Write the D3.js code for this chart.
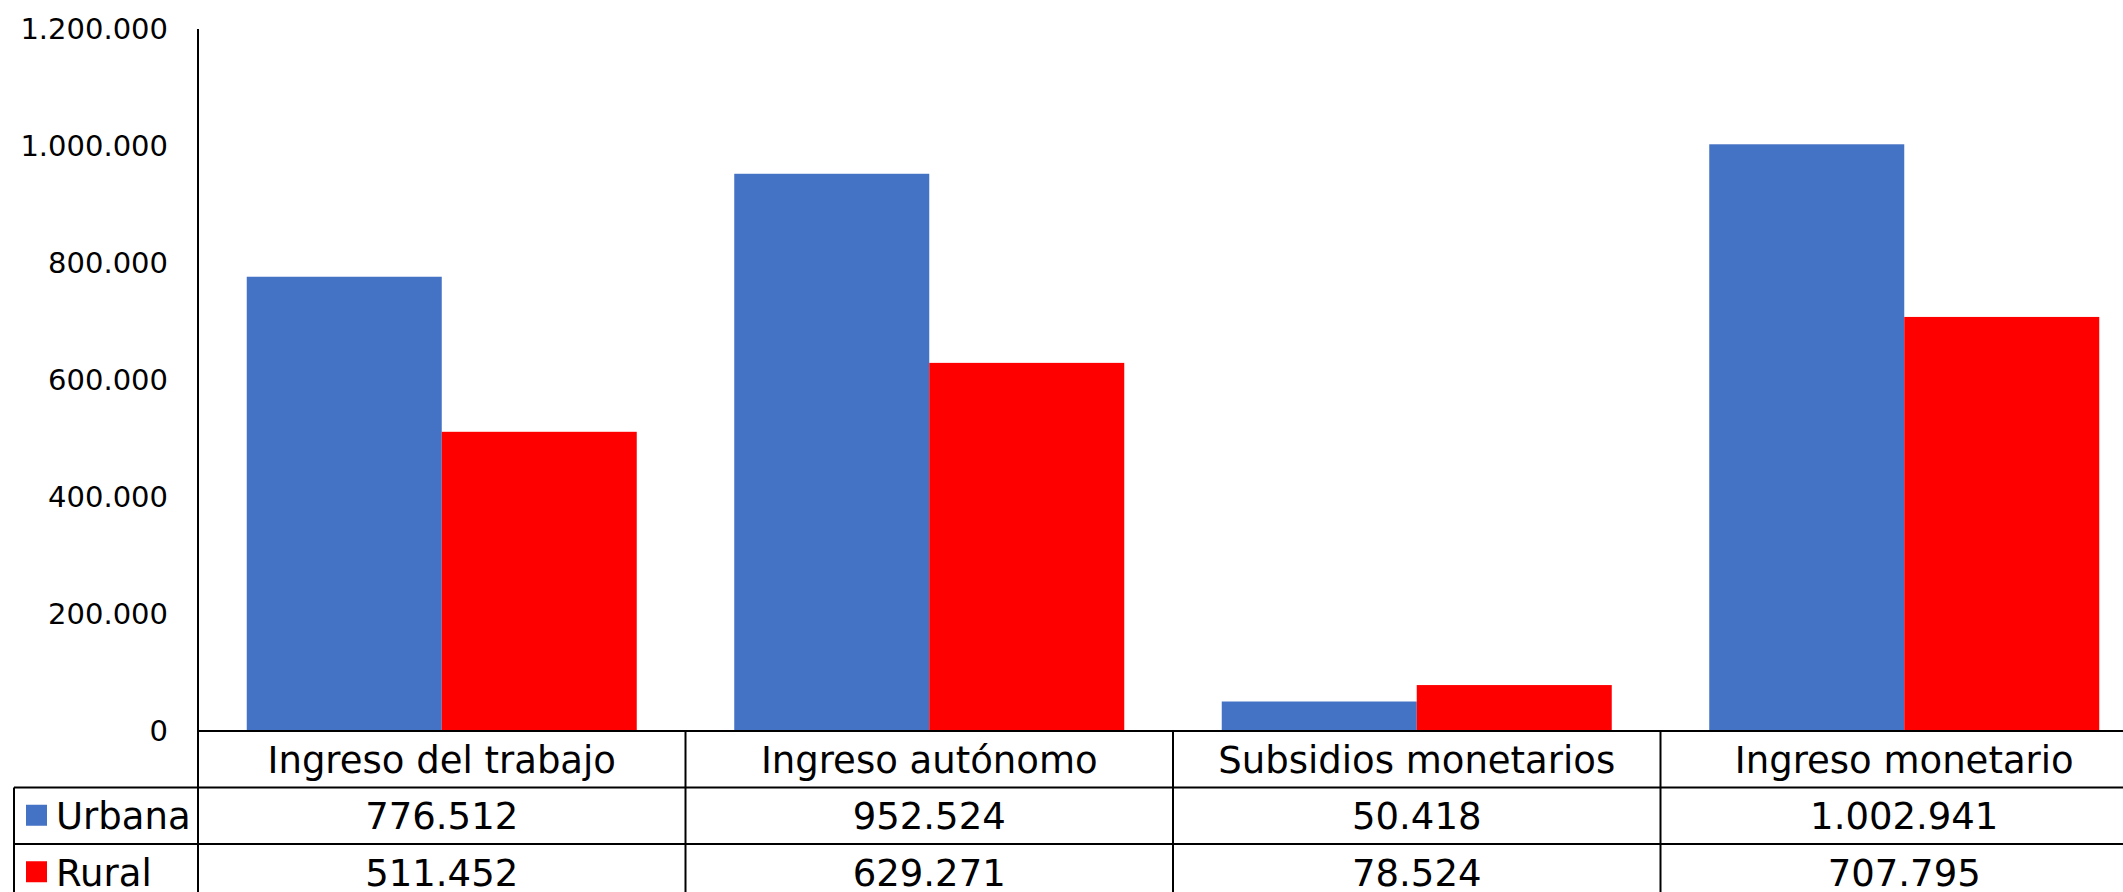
<!DOCTYPE html>
<html>
<head>
<meta charset="utf-8">
<script src="https://cdn.jsdelivr.net/npm/d3@7"></script>
<style>
  body { margin: 0; background: #fff; overflow: hidden; }
  text { font-family: "DejaVu Sans", Verdana, sans-serif; fill: #000; }
</style>
</head>
<body>
<div id="chart"></div>
<script>
var categories = ["Ingreso del trabajo", "Ingreso autónomo", "Subsidios monetarios", "Ingreso monetario"];
var seriesNames = ["Urbana", "Rural"];
var urbana = [776512, 952524, 50418, 1002941];
var rural = [511452, 629271, 78524, 707795];
var yTicks = [0, 200000, 400000, 600000, 800000, 1000000, 1200000];
var colors = ["#4472C4", "#FF0000"];

var width = 2123, height = 892;
var plotLeft = 198, plotTop = 29, zero = 731;
var rowH = 56.5;

var es = d3.formatLocale({ decimal: ",", thousands: ".", grouping: [3], currency: ["$", ""] });
var fmt = es.format(",d");

var values = [urbana, rural];

var svg = d3.select("#chart").append("svg")
  .attr("width", width)
  .attr("height", height);

var x0 = d3.scaleBand()
  .domain(categories)
  .range([plotLeft, plotLeft + 4 * 487.5]);

var bw = x0.bandwidth();

var x1 = d3.scaleBand()
  .domain(seriesNames)
  .range([bw * 0.1, bw * 0.9]);

var y = d3.scaleLinear()
  .domain([0, 1200000])
  .range([zero, plotTop]);

// y axis labels
svg.selectAll(".ytick")
  .data(yTicks)
  .enter()
  .append("text")
  .attr("class", "ytick")
  .attr("x", plotLeft - 30)
  .attr("y", function(d) { return y(d); })
  .attr("dy", "0.36em")
  .attr("text-anchor", "end")
  .style("font-size", "29px")
  .text(function(d) { return fmt(d); });

// bars
var groups = svg.selectAll(".grp")
  .data(categories)
  .enter()
  .append("g")
  .attr("class", "grp")
  .attr("transform", function(d) { return "translate(" + x0(d) + ",0)"; });

groups.selectAll("rect")
  .data(function(d, i) {
    return seriesNames.map(function(s, j) { return { s: s, v: values[j][i], j: j }; });
  })
  .enter()
  .append("rect")
  .attr("x", function(d) { return x1(d.s); })
  .attr("width", x1.bandwidth())
  .attr("y", function(d) { return y(d.v); })
  .attr("height", function(d) { return zero - y(d.v); })
  .attr("fill", function(d) { return colors[d.j]; });

// data table
var tableLeft = 14;
var rowTops = [zero, zero + rowH, zero + 2 * rowH, zero + 3 * rowH];

// horizontal lines
svg.append("line")
  .attr("x1", plotLeft).attr("x2", width)
  .attr("y1", zero).attr("y2", zero)
  .attr("stroke", "#000").attr("stroke-width", 2);

[rowTops[1], rowTops[2]].forEach(function(yy) {
  svg.append("line")
    .attr("x1", tableLeft).attr("x2", width)
    .attr("y1", yy).attr("y2", yy)
    .attr("stroke", "#000").attr("stroke-width", 2);
});

// vertical lines
svg.append("line")
  .attr("x1", plotLeft).attr("x2", plotLeft)
  .attr("y1", plotTop).attr("y2", height)
  .attr("stroke", "#000").attr("stroke-width", 2);

svg.append("line")
  .attr("x1", tableLeft).attr("x2", tableLeft)
  .attr("y1", rowTops[1]).attr("y2", height)
  .attr("stroke", "#000").attr("stroke-width", 2);

categories.slice(1).forEach(function(c) {
  svg.append("line")
    .attr("x1", x0(c)).attr("x2", x0(c))
    .attr("y1", zero).attr("y2", height)
    .attr("stroke", "#000").attr("stroke-width", 2);
});

// header labels
svg.selectAll(".cat")
  .data(categories)
  .enter()
  .append("text")
  .attr("class", "cat")
  .attr("x", function(d) { return x0(d) + bw / 2; })
  .attr("y", zero + rowH / 2)
  .attr("dy", "0.36em")
  .attr("text-anchor", "middle")
  .style("font-size", "37px")
  .text(function(d) { return d; });

// rows
seriesNames.forEach(function(s, j) {
  var cy = rowTops[j + 1] + rowH / 2;
  svg.append("rect")
    .attr("x", 26).attr("y", cy - 11)
    .attr("width", 21).attr("height", 21)
    .attr("fill", colors[j]);
  svg.append("text")
    .attr("x", 56).attr("y", cy)
    .attr("dy", "0.36em")
    .style("font-size", "37px")
    .text(s);
  svg.selectAll(".val" + j)
    .data(values[j])
    .enter()
    .append("text")
    .attr("class", "val" + j)
    .attr("x", function(d, i) { return x0(categories[i]) + bw / 2; })
    .attr("y", cy)
    .attr("dy", "0.36em")
    .attr("text-anchor", "middle")
    .style("font-size", "37px")
    .text(function(d) { return fmt(d); });
});
</script>
</body>
</html>
